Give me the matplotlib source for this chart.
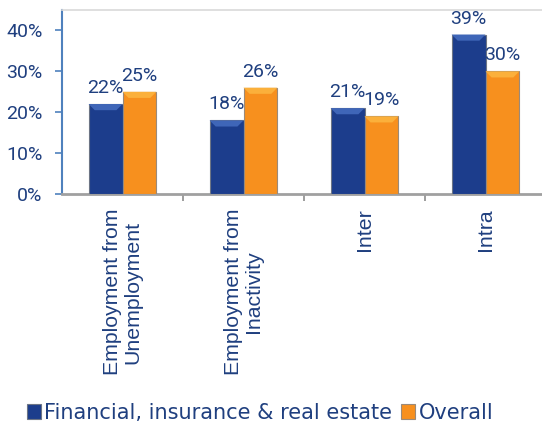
import matplotlib
matplotlib.use('Agg')
import matplotlib.pyplot as plt
from matplotlib.patches import Polygon
import numpy as np

# 数据
categories = ['Employment from\nUnemployment', 'Employment from\nInactivity', 'Inter', 'Intra']
financial = [22, 18, 21, 39]
overall = [25, 26, 19, 30]
series_names = ['Financial, insurance & real estate', 'Overall']
yticks = [0, 10, 20, 30, 40]

NAVY = '#1c3d8c'
NAVY_TOP = '#3f66b8'
ORANGE = '#f7901e'
ORANGE_TOP = '#fbb03b'
TEXT = '#1f3f7f'
NUM_FONT = 'Roboto'

fig = plt.figure(figsize=(5.42, 4.25), dpi=100)
ax = fig.add_axes([62 / 542, 1 - 194 / 425, (542 - 62) / 542, (194 - 10) / 425])

x = np.arange(len(categories))
w = 0.28
b1 = ax.bar(x - w / 2, financial, w, color=NAVY, edgecolor='#6d7585', linewidth=0.8, zorder=3)
b2 = ax.bar(x + w / 2, overall, w, color=ORANGE, edgecolor='#9a8a7a', linewidth=0.8, zorder=3)


def add_bevel(bars, color):
    """柱顶的浅色斜面"""
    for rect in bars:
        x0 = rect.get_x()
        x1 = x0 + rect.get_width()
        top = rect.get_height()
        inset = rect.get_width() * 0.18
        depth = 1.5
        pts = [(x0, top), (x1, top), (x1 - inset, top - depth), (x0 + inset, top - depth)]
        ax.add_patch(Polygon(pts, closed=True, facecolor=color, edgecolor='none', zorder=4))


add_bevel(b1, NAVY_TOP)
add_bevel(b2, ORANGE_TOP)

# 数值标签
for bars, vals in [(b1, financial), (b2, overall)]:
    for rect, v in zip(bars, vals):
        ax.annotate(f'{v}%', xy=(rect.get_x() + rect.get_width() / 2, v),
                    xytext=(0, 5), textcoords='offset points',
                    ha='center', va='bottom', fontsize=14, color=TEXT,
                    family=NUM_FONT)

ax.set_xlim(-0.5, (542 - 62) / 121 - 0.5)
ax.set_ylim(0, 45)
ax.set_yticks(yticks)
ax.set_yticklabels([f'{t}%' for t in yticks], fontsize=14, color=TEXT, family=NUM_FONT)
ax.tick_params(axis='y', colors='#4f81bd', labelcolor=TEXT, length=5, width=1.2, pad=9)

# x轴：刻度在类别之间，标签竖排
ax.set_xticks(x[:-1] + 0.5)
ax.set_xticklabels([])
ax.tick_params(axis='x', colors='#8c8c8c', length=5, width=1.2)
for xi, lab in zip(x, categories):
    ax.text(xi, -3.6, lab, rotation=90, ha='center', va='top', multialignment='center',
            fontsize=15.3, color=TEXT, family='Liberation Sans', linespacing=1.08)

ax.spines['left'].set_color('#4f81bd')
ax.spines['left'].set_linewidth(1.5)
ax.spines['bottom'].set_color('#a0a0a0')
ax.spines['bottom'].set_linewidth(2)
ax.spines['top'].set_color('#d9d9d9')
ax.spines['top'].set_linewidth(1.2)
ax.spines['right'].set_visible(False)

# 图例
fig.legend([b1, b2], series_names, loc='center', bbox_to_anchor=(260 / 542, 1 - 413 / 425),
           ncol=2, frameon=False, handlelength=0.7, handleheight=0.7,
           handletextpad=0.15, columnspacing=0.4,
           prop={'family': 'DejaVu Sans', 'size': 15}, labelcolor=TEXT)

fig.savefig('out.png', dpi=100)
